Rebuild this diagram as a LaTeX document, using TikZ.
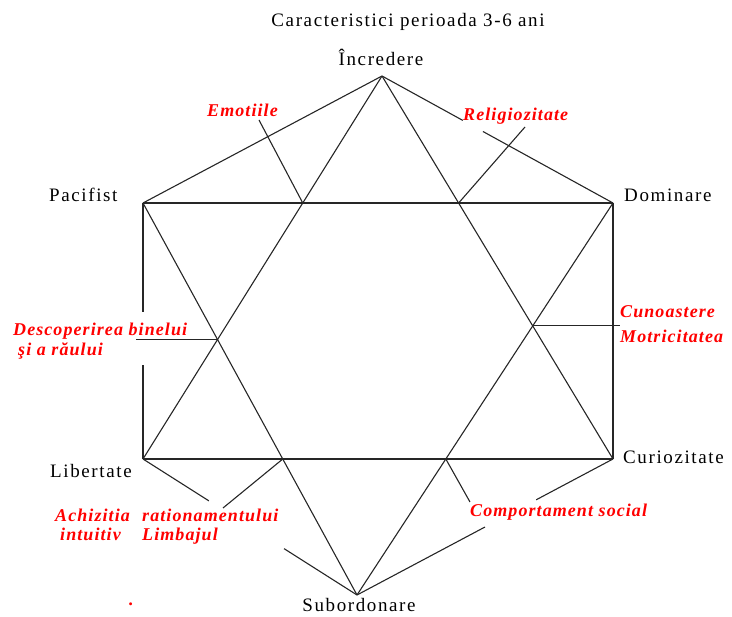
\documentclass[tikz,border=0pt]{standalone}
\usepackage{fontspec}
\setmainfont{Liberation Serif}
\newfontfamily\blkfont[LetterSpace=8.5]{Liberation Serif}
\newfontfamily\redfont[LetterSpace=6]{Liberation Serif}
\usetikzlibrary{calc}
\tikzset{
  edge/.style={draw=black!85, line width=1.1pt},
  lbl/.style={inner sep=0pt, font=\blkfont\fontsize{19}{22}\selectfont, text=black},
  redlbl/.style={inner sep=0pt, font=\redfont\bfseries\itshape\fontsize{18}{21}\selectfont, text=red},
}
\begin{document}
\begin{tikzpicture}[x=1pt,y=-1pt]
\useasboundingbox (0,0) rectangle (732,617);
% vertices
\coordinate (A) at (382,76);
\coordinate (P) at (143,203);
\coordinate (D) at (613,203);
\coordinate (L) at (143,459);
\coordinate (C) at (613,459);
\coordinate (S) at (357,595);
% intersections
\coordinate (X1) at (intersection of A--L and P--D);
\coordinate (X2) at (intersection of A--C and P--D);
\coordinate (X3) at (intersection of A--L and P--S);
\coordinate (X4) at (intersection of A--C and D--S);
\coordinate (X5) at (intersection of P--S and L--C);
\coordinate (X6) at (intersection of D--S and L--C);
% leader free ends
\coordinate (e1) at (259,120);
\coordinate (e2) at (525,127);
\coordinate (e3) at (136,0 |- X3);
\coordinate (e4) at (620,0 |- X4);
\coordinate (e5) at (223,508);
\coordinate (e6) at (470,502);

% outline
\draw[edge] (A) -- (P);
\draw[edge] (A) -- ($(A)!0.35!(D)$);
\draw[edge] ($(A)!0.437!(D)$) -- (D);
\draw[edge] (P) -- (D);
\draw[edge] (L) -- (C);
\draw[edge] (D) -- (C);
\draw[edge] (P) -- ($(P)!0.426!(L)$);
\draw[edge] ($(P)!0.633!(L)$) -- (L);
\draw[edge] (L) -- ($(L)!0.308!(S)$);
\draw[edge] ($(L)!0.659!(S)$) -- (S);
\draw[edge] (C) -- ($(C)!0.30!(S)$);
\draw[edge] ($(C)!0.50!(S)$) -- (S);
% star
\draw[edge] (A) -- (L);
\draw[edge] (A) -- (C);
\draw[edge] (P) -- (S);
\draw[edge] (D) -- (S);
% leaders
\draw[edge] (e1) -- (X1);
\draw[edge] (e2) -- (X2);
\draw[edge] (X3) -- (e3);
\draw[edge] (X4) -- (e4);
\draw[edge] (X5) -- (e5);
\draw[edge] (X6) -- (e6);

% black labels
\node[lbl, anchor=base] (title) at (408,27) {Caracteristici perioada 3-6 ani};
\node[lbl, anchor=base] (tA) at (381,66) {Încredere};
\node[lbl, anchor=base west] (tP) at (49,202) {Pacifist};
\node[lbl, anchor=base west] (tD) at (624,202) {Dominare};
\node[lbl, anchor=base west] (tL) at (50,478) {Libertate};
\node[lbl, anchor=base west] (tC) at (623,464) {Curiozitate};
\node[lbl, anchor=base] (tS) at (359,612) {Subordonare};

% red labels
\node[redlbl, anchor=base west] (r1) at (207,117) {Emotiile};
\node[redlbl, anchor=base west] (r2) at (463,121) {Religiozitate};
\node[redlbl, anchor=base west] (r3) at (13,336) {Descoperirea binelui};
\node[redlbl, anchor=base west] (r3b) at (18,356) {şi a răului};
\node[redlbl, anchor=base west] (r4) at (620,318) {Cunoastere};
\node[redlbl, anchor=base west] (r4b) at (620,343) {Motricitatea};
\node[redlbl, anchor=base west] (r5) at (55,522) {Achizitia};
\node[redlbl, anchor=base west] (r5b) at (142,522) {rationamentului};
\node[redlbl, anchor=base west] (r5c) at (60,541) {intuitiv};
\node[redlbl, anchor=base west] (r5d) at (142,541) {Limbajul};
\node[redlbl, anchor=base west] (r6) at (470,517) {Comportament social};
\node[redlbl, anchor=base west] (dot) at (129,606) {.};
\end{tikzpicture}
\end{document}
